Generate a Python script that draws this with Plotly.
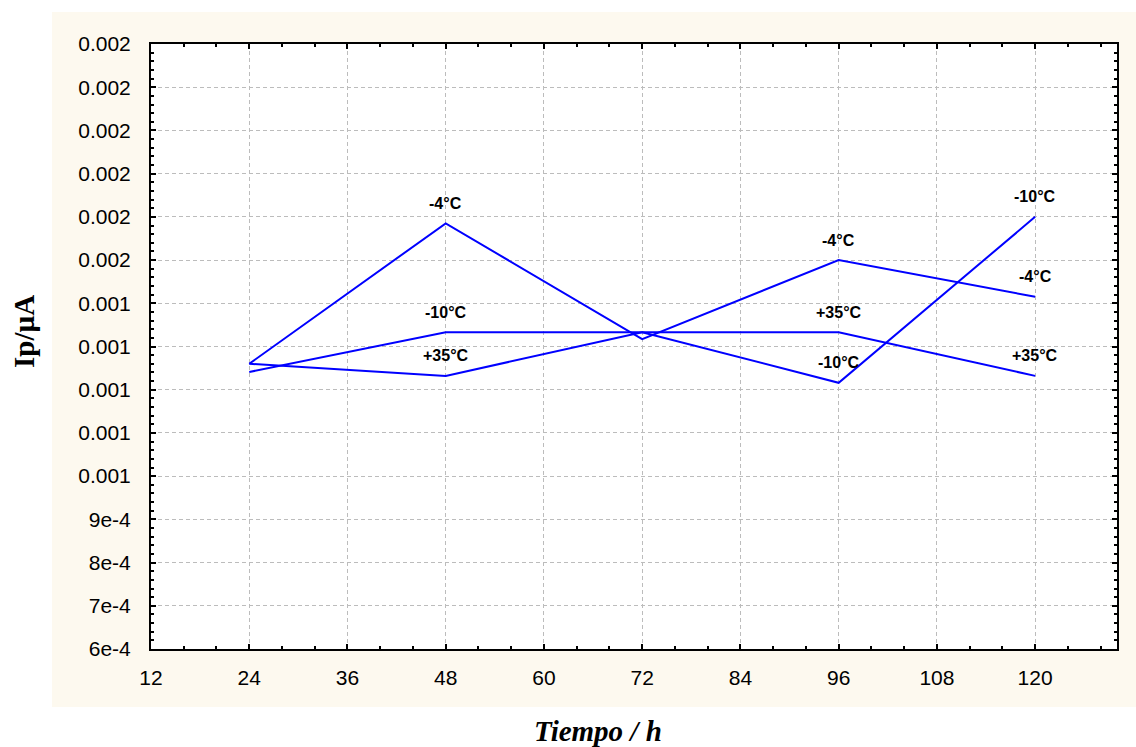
import plotly.graph_objects as go

# ---- data ----
hours = [24, 48, 72, 96, 120]
series_names = ["-4°C", "-10°C", "+35°C"]
ip_m4 = [1.260e-3, 1.585e-3, 1.317e-3, 1.500e-3, 1.415e-3]
ip_m10 = [1.241e-3, 1.333e-3, 1.333e-3, 1.216e-3, 1.600e-3]
ip_p35 = [1.260e-3, 1.232e-3, 1.333e-3, 1.333e-3, 1.232e-3]
label_hours = [48, 96, 120]

x_tickvals = [12, 24, 36, 48, 60, 72, 84, 96, 108, 120]
x_ticktext = ["12", "24", "36", "48", "60", "72", "84", "96", "108", "120"]
y_tickvals = [6e-4, 7e-4, 8e-4, 9e-4, 1.0e-3, 1.1e-3, 1.2e-3, 1.3e-3, 1.4e-3,
              1.5e-3, 1.6e-3, 1.7e-3, 1.8e-3, 1.9e-3, 2.0e-3]
y_ticktext = ["6e-4", "7e-4", "8e-4", "9e-4", "0.001", "0.001", "0.001", "0.001",
              "0.001", "0.002", "0.002", "0.002", "0.002", "0.002", "0.002"]

W, H = 1136, 747
ML, MR, MT, MB = 151, 19, 44, 98
pw, ph = W - ML - MR, H - MT - MB

def px_to_paper_x(px):
    return (px - ML) / pw

def px_to_paper_y(py):
    return (H - MB - py) / ph

all_series = [ip_m4, ip_m10, ip_p35]

fig = go.Figure()
for name, ys in zip(series_names, all_series):
    fig.add_trace(go.Scatter(x=hours, y=ys, mode="lines", name=name,
                             line=dict(color="#0000ff", width=2)))

annotations = []
for name, ys in zip(series_names, all_series):
    for h, v in zip(hours, ys):
        if h in label_hours:
            annotations.append(dict(x=h, y=v, xref="x", yref="y", text=name,
                                    showarrow=False, yshift=20, xanchor="center",
                                    yanchor="middle",
                                    font=dict(family="Liberation Sans, Arial", size=16,
                                              color="black", weight="bold")))

annotations.append(dict(x=px_to_paper_x(24), y=px_to_paper_y(332), xref="paper", yref="paper",
                        text="Ip/µA", textangle=-90, showarrow=False,
                        xanchor="center", yanchor="middle",
                        font=dict(family="Liberation Serif, Times New Roman", size=29,
                                  color="black", weight="bold")))
annotations.append(dict(x=px_to_paper_x(598), y=px_to_paper_y(731), xref="paper", yref="paper",
                        text="<i>Tiempo / h</i>", showarrow=False,
                        xanchor="center", yanchor="middle",
                        font=dict(family="Liberation Serif, Times New Roman", size=29,
                                  color="black", weight="bold")))

shapes = [
    dict(type="rect", xref="paper", yref="paper", layer="below",
         x0=px_to_paper_x(52), x1=px_to_paper_x(1136),
         y0=px_to_paper_y(707), y1=px_to_paper_y(12),
         fillcolor="#fdf9ef", line=dict(width=0)),
    dict(type="rect", xref="paper", yref="paper", layer="below",
         x0=0, x1=1, y0=0, y1=1, fillcolor="white", line=dict(width=0)),
]

axis_common = dict(showline=True, linecolor="black", linewidth=2, mirror="allticks",
                   ticks="inside", ticklen=5, tickwidth=1.5, tickcolor="black",
                   showgrid=True, gridcolor="#bcbcbc", gridwidth=1, griddash="4px,3px",
                   zeroline=False,
                   tickfont=dict(family="Liberation Sans, Arial", size=21, color="black"))

fig.update_layout(
    width=W, height=H, autosize=False,
    margin=dict(l=ML, r=MR, t=MT, b=MB),
    paper_bgcolor="white", plot_bgcolor="rgba(0,0,0,0)",
    showlegend=False,
    shapes=shapes, annotations=annotations,
    xaxis=dict(range=[12, 130], tickmode="array", tickvals=x_tickvals, ticktext=x_ticktext,
               ticklabelstandoff=9,
               minor=dict(tick0=0, dtick=4, ticks="inside", ticklen=3, tickcolor="black",
                          showgrid=False),
               **axis_common),
    yaxis=dict(range=[6e-4, 2.0e-3], tickmode="array", tickvals=y_tickvals, ticktext=y_ticktext,
               ticklabelstandoff=14,
               minor=dict(tick0=0, dtick=2e-5, ticks="inside", ticklen=3, tickcolor="black",
                          showgrid=False),
               **axis_common),
)

fig.write_html("out.html")
